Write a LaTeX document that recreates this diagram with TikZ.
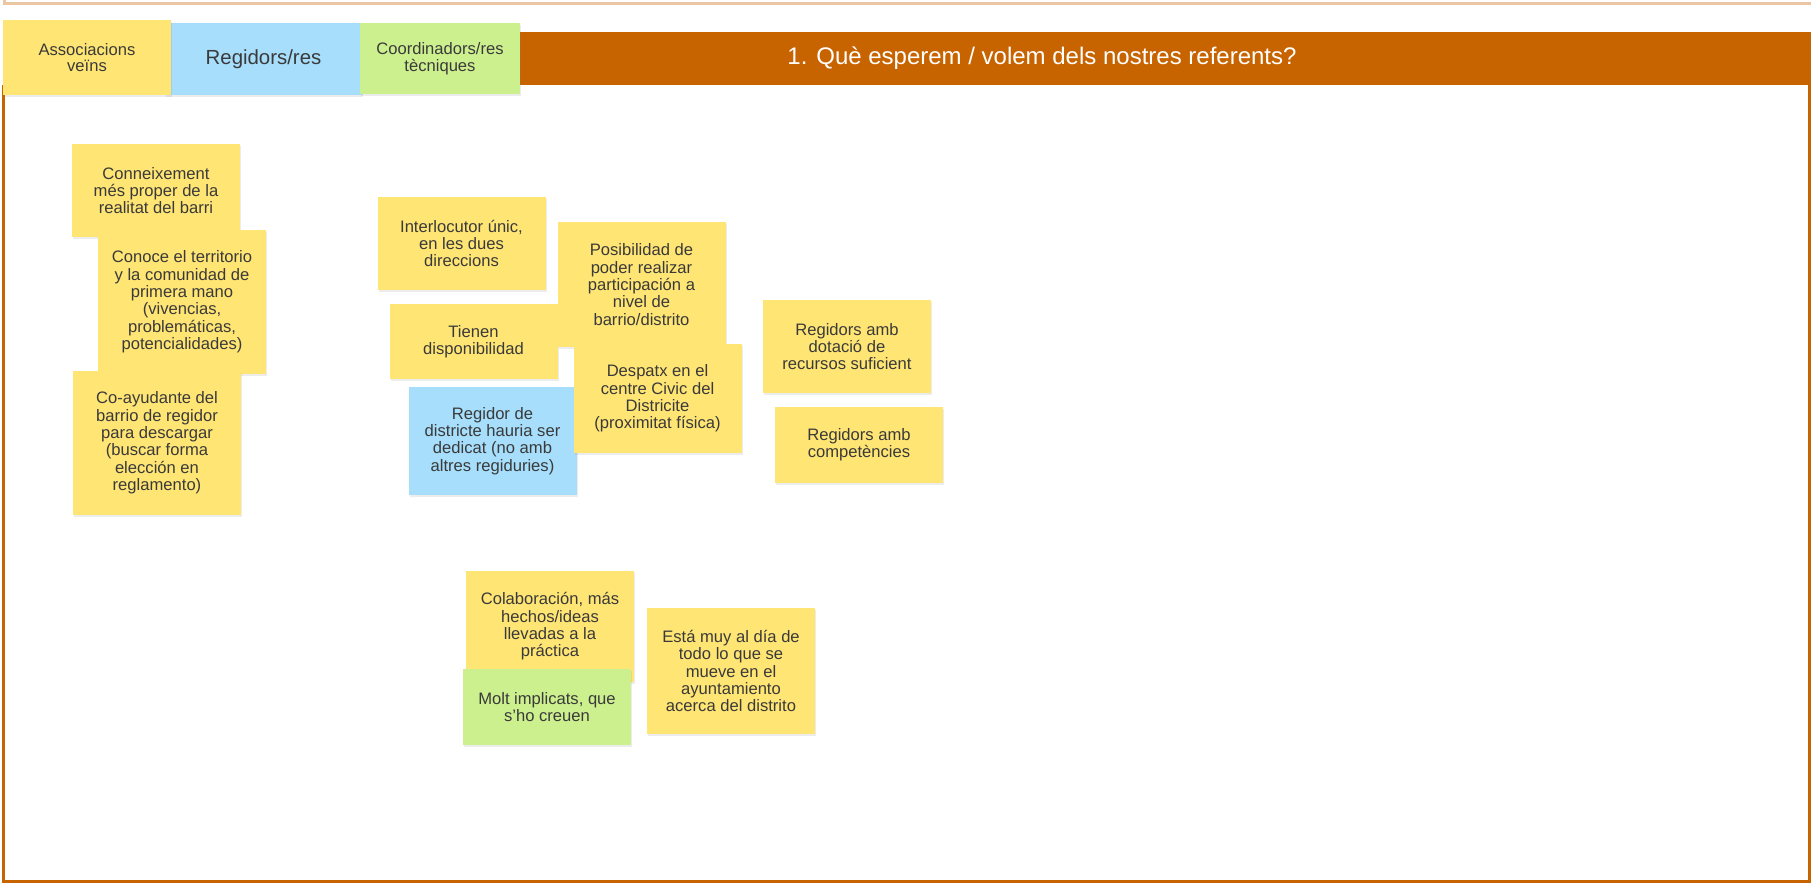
\documentclass[tikz,border=0pt]{standalone}
\usepackage{fontspec}
\setmainfont{Liberation Sans}
\usetikzlibrary{shadows}
\definecolor{notey}{HTML}{FFE574}
\definecolor{noteb}{HTML}{A6DEFB}
\definecolor{noteg}{HTML}{CDF08F}
\definecolor{barorange}{HTML}{C86400}
\definecolor{topline}{HTML}{EBC6A2}
\definecolor{notetext}{HTML}{3A3A3A}

\begin{document}
\begin{tikzpicture}[x=0.5pt,y=-0.5pt,
    sticky/.style={fill=notey,inner sep=0pt,minimum width=84pt,align=center,text=notetext,
      font=\fontsize{8.3pt}{8.7pt}\selectfont,
      drop shadow={shadow xshift=0.6pt,shadow yshift=-0.8pt,opacity=0.15}},
    bluenote/.style={sticky,fill=noteb},
    greennote/.style={sticky,fill=noteg},
    tabnote/.style={sticky,font=\fontsize{8.3pt}{8.3pt}\selectfont}]
    \useasboundingbox (0,0) rectangle (1811,883);
    \draw[topline,line width=1.5pt] (4,0) -- (4,4) -- (1811,4);
    \fill[barorange] (3,32) rectangle (1811,85);
    \draw[barorange,line width=1.5pt] (3,85) -- (3,881) -- (1809,881) -- (1809,85);
    \node[text=white,font=\fontsize{12pt}{13pt}\selectfont] (title) at (1042,58) {1. Què esperem / volem dels nostres referents?};
    \node[tabnote,fill=noteb,minimum width=98.5pt,minimum height=36pt,font=\fontsize{10.2pt}{11pt}\selectfont] (tabregidors) at (263.5,59) {Regidors/res};
    \node[tabnote,minimum height=37.5pt] (tabveins) at (87,57.5) {Associacions\\veïns};
    \node[tabnote,fill=noteg,minimum width=80pt,minimum height=35.5pt] (tabcoord) at (440,58.5) {Coordinadors/res\\tècniques};

    \node[sticky,minimum height=46.5pt] (conneixement) at (156,190.5) {Conneixement\\més proper de la\\realitat del barri};
    \node[sticky,minimum height=72pt] (conoce) at (182,302) {Conoce el territorio\\y la comunidad de\\primera mano\\(vivencias,\\problemáticas,\\potencialidades)};
    \node[sticky,minimum height=72pt] (coayudante) at (157,443) {Co-ayudante del\\barrio de regidor\\para descargar\\(buscar forma\\elección en\\reglamento)};

    \node[sticky,minimum height=46.5pt] (interlocutor) at (461.5,243.5) {Interlocutor únic,\\en les dues\\direccions};
    \node[sticky,minimum height=37.5pt] (tienen) at (473.5,341.5) {Tienen\\disponibilidad};
    \node[bluenote,minimum height=54pt] (regidordedicat) at (492.5,441) {Regidor de\\districte hauria ser\\dedicat (no amb\\altres regiduries)};
    \node[sticky,minimum height=62.5pt] (posibilidad) at (641.5,284.5) {Posibilidad de\\poder realizar\\participación a\\nivel de\\barrio/distrito};
    \node[sticky,minimum height=54.5pt] (despatx) at (657.5,398.5) {Despatx en el\\centre Civic del\\Districite\\(proximitat física)};

    \node[sticky,minimum height=46.5pt] (dotacio) at (847,346.5) {Regidors amb\\dotació de\\recursos suficient};
    \node[sticky,minimum height=38pt] (competencies) at (859,445) {Regidors amb\\competències};

    \node[sticky,minimum height=55.5pt] (colaboracio) at (550,626.5) {Colaboración, más\\hechos/ideas\\llevadas a la\\práctica};
    \node[greennote,minimum height=38pt] (implicats) at (547,707) {Molt implicats, que\\s'ho creuen};
    \node[sticky,minimum height=63pt] (aldia) at (731,671) {Está muy al día de\\todo lo que se\\mueve en el\\ayuntamiento\\acerca del distrito};
\end{tikzpicture}
\end{document}
